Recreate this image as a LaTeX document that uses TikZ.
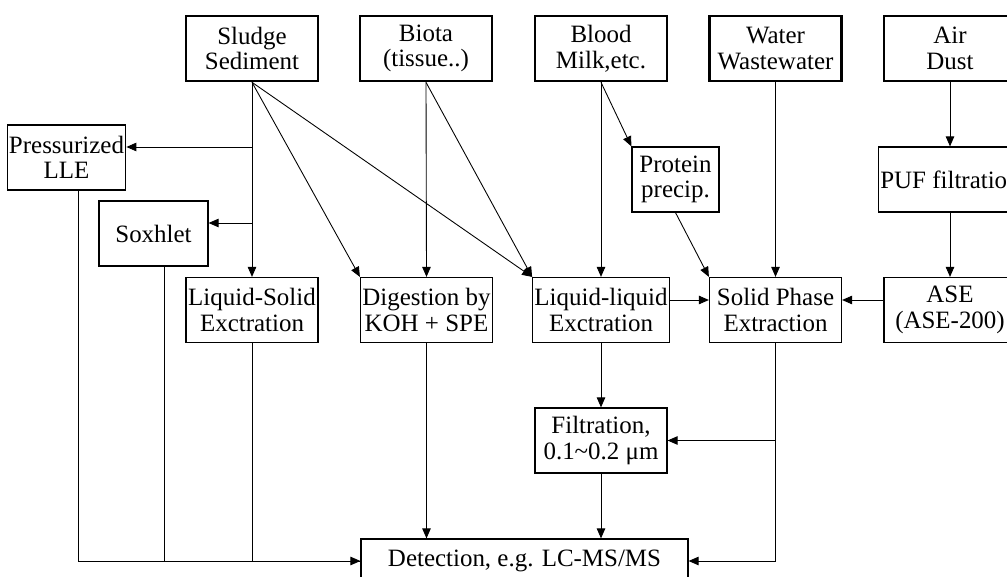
\documentclass[tikz,border=0pt]{standalone}
\usepackage{fontspec}
\setmainfont{Liberation Serif}
\usetikzlibrary{arrows.meta, positioning, calc}

\begin{document}
\begin{tikzpicture}[
    x=0.02cm, y=-0.02cm,
    font=\fontsize{14.2}{14.6}\selectfont,
    % plain step box, sources get a heavier frame
    box/.style={rectangle, draw=black, line width=0.7pt, fill=white, minimum width=2.64cm, minimum height=1.3cm, align=center, inner sep=1pt},
    source/.style={box, line width=1.5pt},
    arrow/.style={-{Triangle[length=0.2cm, width=0.17cm]}, line width=0.5pt},
    link/.style={line width=0.5pt}
]
\clip (0,0) rectangle (1007,577);

% =========================================================
% SAMPLE TYPES
% =========================================================
\node[source] (sludge) at (252,48.5) {Sludge\\Sediment};
\node[source] (biota) at (426,48.5) {Biota\\(tissue..)};
\node[source] (blood) at (601,48.5) {Blood\\Milk,etc.};
\node[source] (water) at (775.5,48.5) {Water\\Wastewater};
\node[source] (air) at (950,48.5) {Air\\Dust};

% =========================================================
% PRE-TREATMENT
% =========================================================
\node[box, minimum width=2.18cm] (pressurized) at (66.5,157.5) {Pressurized\\LLE};
\node[box, minimum width=2.18cm] (soxhlet) at (153.5,233.5) {Soxhlet};
\node[box, minimum width=1.74cm] (protein) at (675.5,179.5) {Protein\\precip.};
\node[box] (puf) at (950,179.5) {PUF filtration};

% =========================================================
% EXTRACTION ROW
% =========================================================
\node[box] (lse) at (252,310) {Liquid-Solid\\Exctration};
\node[box] (digest) at (426.5,310) {Digestion by\\KOH + SPE};
\node[box] (lle) at (601,310) {Liquid-liquid\\Exctration};
\node[box] (spe) at (775.5,310) {Solid Phase\\Extraction};
\node[box] (ase) at (950,310) {ASE\\(ASE-200)};

% clean-up and detection
\node[box] (filter) at (601,440.5) {Filtration,\\0.1\textasciitilde0.2 μm};
\node[box, minimum width=6.54cm, minimum height=0.88cm] (detect) at (524.5,561) {Detection, e.g. LC-MS/MS};

% branch points
\coordinate (branchA) at (252,147);
\coordinate (branchB) at (252,223);
\coordinate (midrow) at (0,300);

% =========================================================
% CONNECTIONS
% =========================================================
\draw[arrow] (sludge.south) -- (lse.north);
\draw[arrow] (branchA) -- (branchA -| pressurized.east);
\draw[arrow] (branchB) -- (branchB -| soxhlet.east);
\draw[arrow] (sludge.south) -- (digest.north west);
\draw[arrow] (sludge.south) -- (lle.north west);

\draw[arrow] (biota.south) -- (digest.north);
\draw[arrow] (biota.south) -- (lle.north west);

\draw[arrow] (blood.south) -- (lle.north);
\draw[arrow] (blood.south) -- (protein.north west);
\draw[arrow] (protein.south) -- (spe.north west);

\draw[arrow] (water.south) -- (spe.north);

\draw[arrow] (air.south) -- (puf.north);
\draw[arrow] (puf.south) -- (ase.north);
\draw[arrow] (ase.west |- midrow) -- (spe.east |- midrow);
\draw[arrow] (lle.east |- midrow) -- (spe.west |- midrow);

\draw[arrow] (lle.south) -- (filter.north);
\draw[arrow] (filter.south) -- (filter.south |- detect.north);
\draw[arrow] (digest.south) -- (digest.south |- detect.north);
\draw[arrow] (spe.south |- filter.east) -- (filter.east);
\draw[arrow] (spe.south) |- (detect.east);

% left-hand returns into detection
\draw[link] ([xshift=0.23cm]pressurized.south) |- (detect.west);
\draw[link] ([xshift=0.21cm]soxhlet.south) |- (detect.west);
\draw[arrow] (lse.south) |- (detect.west);

\end{tikzpicture}
\end{document}
